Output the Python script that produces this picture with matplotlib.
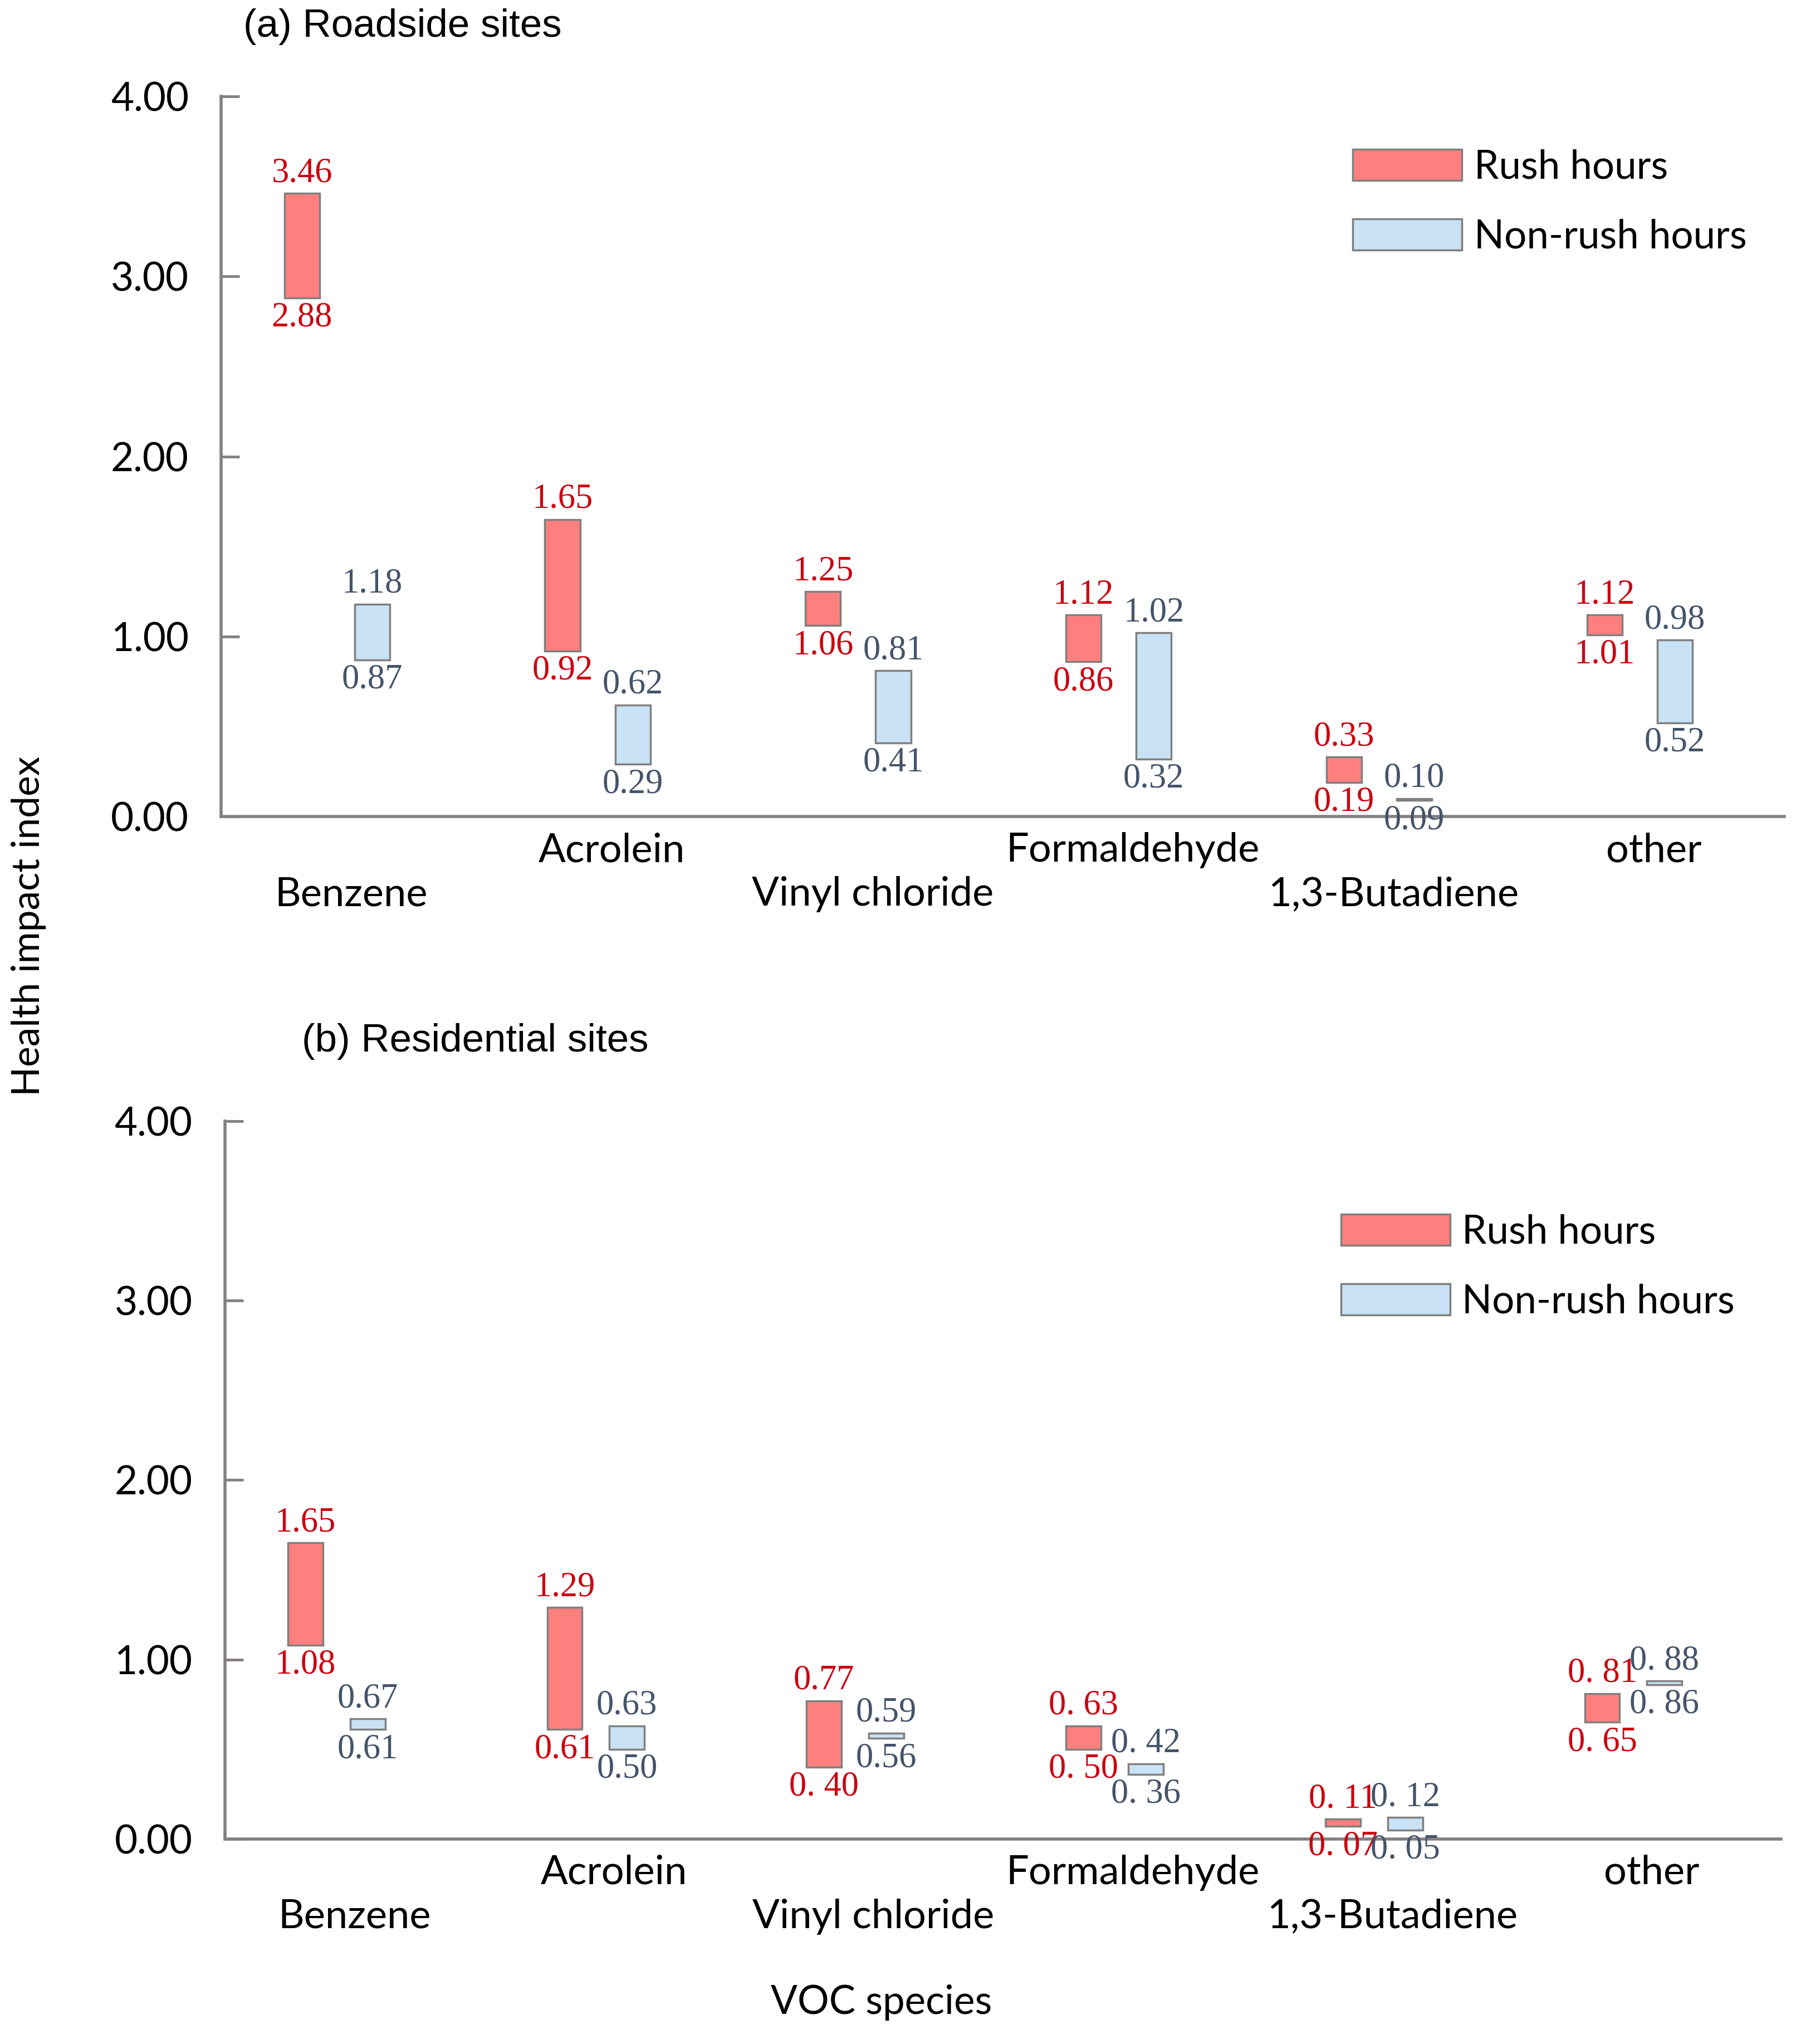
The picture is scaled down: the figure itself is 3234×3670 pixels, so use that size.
import matplotlib
matplotlib.use("Agg")
import matplotlib.pyplot as plt
from matplotlib.patches import Patch
import numpy as np

# ---------------- data ----------------
species = ["Benzene", "Acrolein", "Vinyl chloride", "Formaldehyde", "1,3-Butadiene", "other"]

# (a) Roadside sites
road_rush_low = [2.88, 0.92, 1.06, 0.86, 0.19, 1.01]
road_rush_high = [3.46, 1.65, 1.25, 1.12, 0.33, 1.12]
road_non_low = [0.87, 0.29, 0.41, 0.32, 0.09, 0.52]
road_non_high = [1.18, 0.62, 0.81, 1.02, 0.10, 0.98]
road_rush_low_lbl = ["2.88", "0.92", "1.06", "0.86", "0.19", "1.01"]
road_rush_high_lbl = ["3.46", "1.65", "1.25", "1.12", "0.33", "1.12"]
road_non_low_lbl = ["0.87", "0.29", "0.41", "0.32", "0.09", "0.52"]
road_non_high_lbl = ["1.18", "0.62", "0.81", "1.02", "0.10", "0.98"]

# (b) Residential sites
res_rush_low = [1.08, 0.61, 0.40, 0.50, 0.07, 0.65]
res_rush_high = [1.65, 1.29, 0.77, 0.63, 0.11, 0.81]
res_non_low = [0.61, 0.50, 0.56, 0.36, 0.05, 0.86]
res_non_high = [0.67, 0.63, 0.59, 0.42, 0.12, 0.88]
res_rush_low_lbl = ["1.08", "0.61", "0. 40", "0. 50", "0. 07", "0. 65"]
res_rush_high_lbl = ["1.65", "1.29", "0.77", "0. 63", "0. 11", "0. 81"]
res_non_low_lbl = ["0.61", "0.50", "0.56", "0. 36", "0. 05", "0. 86"]
res_non_high_lbl = ["0.67", "0.63", "0.59", "0. 42", "0. 12", "0. 88"]

yticks = [0, 1, 2, 3, 4]
legend_labels = ["Rush hours", "Non-rush hours"]

# ---------------- style ----------------
SANS = ["Lato", "DejaVu Sans"]
SERIF = ["Liberation Serif", "DejaVu Serif"]
ARIAL = ["Liberation Sans", "DejaVu Sans"]
RUSH_C = "#FF7F7F"
NON_C = "#C9E2F5"
EDGE_C = "#7F7F7F"
RUSH_TXT = "#CC0010"
NON_TXT = "#44546A"
SPINE_C = "#858080"
VAL_FS = 45

fig = plt.figure(figsize=(32.34, 36.7), dpi=100)
ax_a = fig.add_axes([0.1228, 0.6005, 0.9907 - 0.1228, 0.9529 - 0.6005])
ax_b = fig.add_axes([0.1249, 0.1003, 0.989 - 0.1249, 0.4515 - 0.1003])

W = 0.135
OFF_R = -0.19


def draw_panel(ax, rl, rh, nl, nh, rll, rhl, nll, nhl, off_n, leg_xy):
    x = np.arange(len(species))
    xr = x + OFF_R
    xn = x + off_n
    ax.bar(xr, np.array(rh) - np.array(rl), bottom=rl, width=W,
           color=RUSH_C, edgecolor=EDGE_C, linewidth=2.5, zorder=3)
    ax.bar(xn, np.array(nh) - np.array(nl), bottom=nl, width=W,
           color=NON_C, edgecolor=EDGE_C, linewidth=2.5, zorder=3)
    for i in range(len(species)):
        ax.annotate(rhl[i], (xr[i], rh[i]), xytext=(0, 5), textcoords="offset points",
                    ha="center", va="bottom", fontsize=VAL_FS, color=RUSH_TXT, family=SERIF,
                    annotation_clip=False)
        ax.annotate(rll[i], (xr[i], rl[i]), xytext=(0, -5), textcoords="offset points",
                    ha="center", va="top", fontsize=VAL_FS, color=RUSH_TXT, family=SERIF,
                    annotation_clip=False)
        ax.annotate(nhl[i], (xn[i], nh[i]), xytext=(0, 5), textcoords="offset points",
                    ha="center", va="bottom", fontsize=VAL_FS, color=NON_TXT, family=SERIF,
                    annotation_clip=False)
        ax.annotate(nll[i], (xn[i], nl[i]), xytext=(0, -5), textcoords="offset points",
                    ha="center", va="top", fontsize=VAL_FS, color=NON_TXT, family=SERIF,
                    annotation_clip=False)
        ypos = -0.047 if i % 2 == 1 else -0.108
        ax.text(x[i], ypos, species[i], transform=ax.get_xaxis_transform(),
                ha="center", va="center", fontsize=52, family=SANS, color="black")

    ax.set_xlim(-0.5, len(species) - 0.5)
    ax.set_ylim(0, 4)
    ax.set_yticks(yticks)
    ax.set_yticklabels([f"{t:.2f}" for t in yticks], fontsize=51, family=SANS)
    ax.set_xticks([])
    ax.tick_params(axis="y", direction="in", length=24, width=3.5, color=SPINE_C, pad=42)
    for s in ["top", "right"]:
        ax.spines[s].set_visible(False)
    for s in ["left", "bottom"]:
        ax.spines[s].set_color(SPINE_C)
        ax.spines[s].set_linewidth(4)
    handles = [Patch(facecolor=RUSH_C, edgecolor=EDGE_C, linewidth=2.5),
               Patch(facecolor=NON_C, edgecolor=EDGE_C, linewidth=2.5)]
    ax.legend(handles, legend_labels, loc="upper left", bbox_to_anchor=leg_xy,
              frameon=False, handlelength=2.77, handleheight=0.84,
              labelspacing=0.85, handletextpad=0.3, borderpad=0, borderaxespad=0,
              prop={"family": SANS, "size": 51})


draw_panel(ax_a, road_rush_low, road_rush_high, road_non_low, road_non_high,
           road_rush_low_lbl, road_rush_high_lbl, road_non_low_lbl, road_non_high_lbl,
           0.08, (0.724, 0.927))
draw_panel(ax_b, res_rush_low, res_rush_high, res_non_low, res_non_high,
           res_rush_low_lbl, res_rush_high_lbl, res_non_low_lbl, res_non_high_lbl,
           0.05, (0.717, 0.871))

fig.text(0.135, 0.987, "(a) Roadside sites", ha="left", va="center", fontsize=51, family=ARIAL)
fig.text(0.1675, 0.4904, "(b) Residential sites", ha="left", va="center", fontsize=51, family=ARIAL)
fig.text(0.016, 0.547, "Health impact index", rotation=90, ha="center", va="center",
         fontsize=50, family=SANS)
fig.text(0.4895, 0.0202, "VOC species", ha="center", va="center", fontsize=51, family=SANS)

fig.savefig("out.png", dpi=100, facecolor="white")
